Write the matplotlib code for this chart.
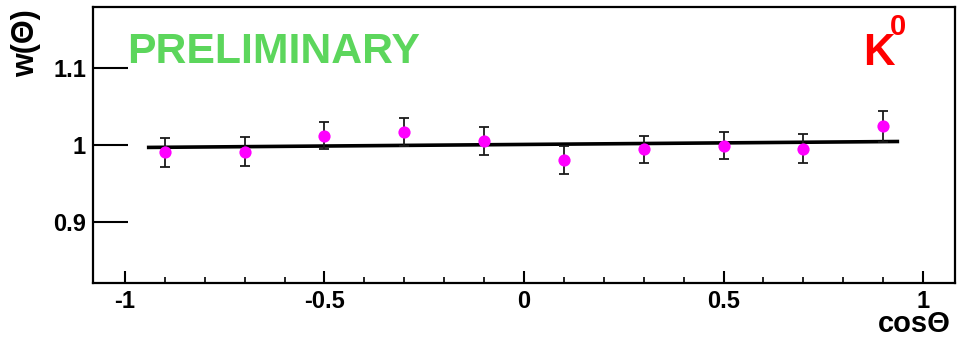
import matplotlib
matplotlib.use("Agg")
import matplotlib.pyplot as plt
import numpy as np

# Measured weights per cos(theta) bin
cos_theta = [-0.9, -0.7, -0.5, -0.3, -0.1, 0.1, 0.3, 0.5, 0.7, 0.9]
weight = [0.990, 0.991, 1.012, 1.017, 1.005, 0.980, 0.994, 0.999, 0.995, 1.024]
weight_err = [0.019, 0.019, 0.018, 0.018, 0.018, 0.018, 0.018, 0.018, 0.019, 0.020]

# Linear fit parameters and its drawn range
fit_intercept = 1.0004
fit_slope = 0.0041
fit_range = [-0.945, 0.94]

x_ticks = [-1, -0.5, 0, 0.5, 1]
x_tick_labels = ["-1", "-0.5", "0", "0.5", "1"]
y_ticks = [0.9, 1.0, 1.1]
y_tick_labels = ["0.9", "1", "1.1"]

FONT = "Liberation Sans"

fig = plt.figure(figsize=(9.58, 3.37), dpi=100)
ax = fig.add_axes([0.0971, 0.1602, 0.8998, 0.8205])

ax.set_xlim(-1.08, 1.08)
ax.set_ylim(0.82, 1.18)

fx = np.array(fit_range)
ax.plot(fx, fit_intercept + fit_slope * fx, color="black", lw=2.6,
        solid_capstyle="butt", zorder=2)

# error bars with caps, then the filled markers on top
ax.errorbar(cos_theta, weight, yerr=weight_err, fmt="none",
            ecolor="#1a1a1a", elinewidth=1.3, capsize=3.5,
            capthick=1.3, zorder=3)
ax.plot(cos_theta, weight, "o", color="#ff00ff", markersize=8.8,
        markeredgewidth=0, zorder=4)

for s in ax.spines.values():
    s.set_linewidth(1.6)

ax.set_xticks(x_ticks)
ax.set_xticklabels(x_tick_labels)
ax.set_xticks(np.arange(-1.0, 1.01, 0.1), minor=True)
ax.set_yticks(y_ticks)
ax.set_yticklabels(y_tick_labels)

ax.tick_params(axis="x", which="major", direction="in", length=9, width=1.5,
               pad=5)
ax.tick_params(axis="x", which="minor", direction="in", length=4.5, width=1.2)
ax.tick_params(axis="y", which="major", direction="in", length=25, width=1.5,
               pad=5)
for lab in ax.get_xticklabels() + ax.get_yticklabels():
    lab.set_fontfamily(FONT)
    lab.set_fontweight("bold")
    lab.set_fontsize(17)

fig.text(0.0275, 0.872, "w(Θ)", rotation=90, ha="center", va="center",
         fontsize=22, fontweight="bold", family=[FONT, "DejaVu Sans"])
fig.text(0.9925, 0.0157, "cosΘ", ha="right", va="baseline",
         fontsize=21, fontweight="bold", family=[FONT, "DejaVu Sans"])

ax.text(0.0395, 0.835, "PRELIMINARY", transform=ax.transAxes, ha="left",
        va="center", fontsize=30.8, fontweight="bold", color="#5cd65c",
        family=FONT)
ax.text(0.8935, 0.83, "K", transform=ax.transAxes, ha="left",
        va="center", fontsize=31.5, fontweight="bold", color="#ff0000",
        family=FONT)
ax.text(0.9245, 0.925, "0", transform=ax.transAxes, ha="left",
        va="center", fontsize=21, fontweight="bold", color="#ff0000",
        family=FONT)

fig.savefig("out.png", dpi=100)
